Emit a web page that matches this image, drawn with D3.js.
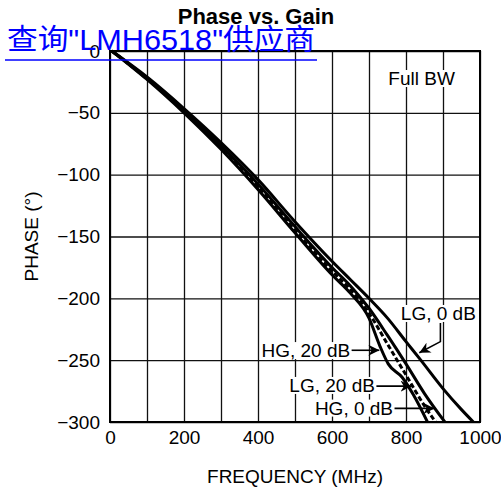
<!DOCTYPE html>
<html>
<head>
<meta charset="utf-8">
<script src="https://cdn.jsdelivr.net/npm/d3@7"></script>
<style>
  body { margin: 0; background: #fff; }
  text { font-family: "Liberation Sans", Arial, sans-serif; fill: #000; }
  .grid line { stroke: #111; stroke-width: 1.3; }
  .grid .domain { display: none; }
  .curve { fill: none; stroke: #000; stroke-width: 3; stroke-linejoin: round; }
</style>
</head>
<body>
<div id="chart"></div>
<script>
// frequency (MHz), phase (deg)
const freqTicks = [0, 100, 200, 300, 400, 500, 600, 700, 800, 900, 1000];
const freqLabels = [0, 200, 400, 600, 800, 1000];
const phaseTicks = [0, -50, -100, -150, -200, -250, -300];

const lg0dB  = [[5,0],[100,-21],[200,-46.5],[300,-74],[400,-104],[500,-138],[600,-170],[650,-185],[700,-200],[750,-216],[800,-235],[840,-250],[900,-273],[950,-290],[982,-300]];
const hg20dB = [[5,0],[100,-23],[200,-50],[300,-79.5],[400,-112],[500,-147],[600,-181],[650,-196],[700,-216],[730,-239],[752,-253],[790,-264],[820,-278],[858,-300]];
const lg20dB = [[5,0],[100,-22],[200,-48],[300,-76.5],[400,-107.5],[500,-142],[600,-175],[650,-190],[700,-208],[750,-230],[800,-253],[850,-277],[905,-300]];
const hg0dB  = [[5,0],[100,-22.5],[200,-49],[300,-78],[400,-110],[500,-145],[600,-178],[650,-193],[700,-212],[750,-237],[800,-262],[850,-287],[880,-300]];

// labels: text, anchor point (MHz, deg), arrow path (MHz, deg)
const labels = [
  { text: "Full BW",   at: [932, -27.5], arrow: null },
  { text: "LG, 0 dB",  at: [786, -217.5], anchor: "start", arrow: [[893,-220],[893,-235],[836,-244]] },
  { text: "HG, 20 dB", at: [649, -247.5], arrow: [[653,-242],[728,-242]] },
  { text: "LG, 20 dB", at: [716, -275.7], arrow: [[720,-271],[815,-271]] },
  { text: "HG, 0 dB",  at: [765, -294],   arrow: [[769,-289],[877,-289]] }
];

const config = {
  width: 501, height: 490,
  margin: { top: 51, right: 21, bottom: 68, left: 110 },
  fontSize: 19
};

const width = config.width - config.margin.left - config.margin.right;
const height = config.height - config.margin.top - config.margin.bottom;

const svg = d3.select('#chart').append('svg')
  .attr('width', config.width)
  .attr('height', config.height);

const defs = svg.append('defs');
defs.append('marker')
  .attr('id', 'arrow')
  .attr('viewBox', '0 0 10 10')
  .attr('refX', 10).attr('refY', 5)
  .attr('markerWidth', 11).attr('markerHeight', 11)
  .attr('markerUnits', 'userSpaceOnUse')
  .attr('orient', 'auto')
  .append('path')
  .attr('d', 'M0,0 L10,5 L0,10 L3,5 Z')
  .attr('fill', '#000');

const chart = svg.append('g')
  .attr('transform', `translate(${config.margin.left},${config.margin.top})`);

const xScale = d3.scaleLinear().domain([0, 1000]).range([0, width]);
const yScale = d3.scaleLinear().domain([0, -300]).range([0, height]);

// grid lines
chart.append('g')
  .attr('class', 'grid')
  .call(d3.axisBottom(xScale).tickValues(freqTicks).tickSize(height).tickSizeOuter(0).tickFormat(''));

chart.append('g')
  .attr('class', 'grid')
  .call(d3.axisLeft(yScale).tickValues(phaseTicks).tickSize(-width).tickFormat(''));

// tick labels
const xAxisG = chart.append('g')
  .attr('transform', `translate(0,${height})`)
  .call(d3.axisBottom(xScale).tickValues(freqLabels).tickSize(0).tickPadding(9).tickFormat(d3.format('d')));
xAxisG.select('.domain').remove();
xAxisG.selectAll('text').attr('font-size', config.fontSize).attr('font-family', '"Liberation Sans", Arial, sans-serif').attr('dy', '0.71em');

const yAxisG = chart.append('g')
  .call(d3.axisLeft(yScale).tickValues(phaseTicks).tickSize(0).tickPadding(10).tickFormat(d3.format('d')));
yAxisG.select('.domain').remove();
yAxisG.selectAll('text').attr('font-size', config.fontSize).attr('font-family', '"Liberation Sans", Arial, sans-serif');

// curves
const line = d3.line()
  .x(d => xScale(d[0]))
  .y(d => yScale(d[1]))
  .curve(d3.curveMonotoneX);

chart.append('path').datum(lg0dB).attr('class', 'curve').attr('d', line);
chart.append('path').datum(hg20dB).attr('class', 'curve').attr('d', line);
chart.append('path').datum(lg20dB).attr('class', 'curve').attr('d', line);
chart.append('path').datum(hg0dB).attr('class', 'curve').attr('d', line)
  .attr('stroke-width', 2.6)
  .attr('stroke-dasharray', '5,2.5');

// frame
chart.append('rect')
  .attr('width', width).attr('height', height)
  .attr('fill', 'none').attr('stroke', '#000').attr('stroke-width', 2);

// annotations
const arrowLine = d3.line().x(d => xScale(d[0])).y(d => yScale(d[1]));
labels.forEach(l => {
  const g = chart.append('g');
  const t = g.append('text')
    .attr('x', xScale(l.at[0]))
    .attr('y', yScale(l.at[1]))
    .attr('font-size', config.fontSize)
    .attr('text-anchor', l.anchor || 'end')
    .text(l.text);
  const bb = t.node().getBBox();
  g.insert('rect', 'text')
    .attr('x', bb.x - 1).attr('y', bb.y + 2)
    .attr('width', bb.width + 2).attr('height', bb.height - 4)
    .attr('fill', '#fff');
  if (l.arrow) {
    g.append('path')
      .attr('d', arrowLine(l.arrow))
      .attr('fill', 'none')
      .attr('stroke', '#000')
      .attr('stroke-width', 1.6)
      .attr('marker-end', 'url(#arrow)');
  }
});

// axis titles
svg.append('text')
  .attr('x', config.margin.left + width / 2)
  .attr('y', 483)
  .attr('text-anchor', 'middle')
  .attr('font-size', config.fontSize)
  .text('FREQUENCY (MHz)');

svg.append('text')
  .attr('transform', `translate(38,${config.margin.top + height / 2}) rotate(-90)`)
  .attr('text-anchor', 'middle')
  .attr('font-size', config.fontSize)
  .text('PHASE (°)');

// title
svg.append('text')
  .attr('x', 256)
  .attr('y', 24)
  .attr('text-anchor', 'middle')
  .attr('font-size', 22)
  .attr('font-weight', 'bold')
  .text('Phase vs. Gain');

// overlay link
svg.append('text')
  .attr('x', 7)
  .attr('y', 50)
  .attr('font-size', 29)
  .attr('textLength', 308)
  .attr('lengthAdjust', 'spacingAndGlyphs')
  .style('font-family', '"Liberation Sans", "Noto Sans CJK SC", sans-serif')
  .style('fill', '#0000ff')
  .text('查询"LMH6518"供应商');

svg.append('line')
  .attr('x1', 5).attr('x2', 317)
  .attr('y1', 60).attr('y2', 60)
  .attr('stroke', '#0000ff')
  .attr('stroke-width', 1.5);
</script>
</body>
</html>
